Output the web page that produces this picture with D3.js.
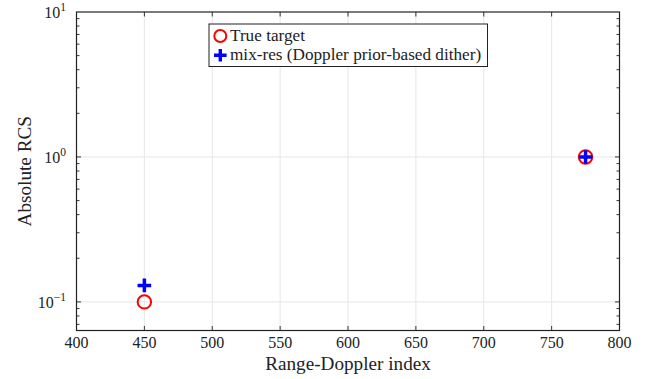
<!DOCTYPE html>
<html>
<head>
<meta charset="utf-8">
<script src="https://cdn.jsdelivr.net/npm/d3@7"></script>
<style>
  html, body { margin: 0; padding: 0; background: #fff; }
  svg text { font-family: "Liberation Serif", "Times New Roman", serif; fill: #222; }
</style>
</head>
<body>
<svg id="chart" width="652" height="379"></svg>
<script>
// Range-Doppler bins and their absolute RCS values
const trueIndex = [450, 775];
const trueRCS = [0.1, 1.0];
const mixIndex = [450, 775];
const mixRCS = [0.13, 1.0];

const xTicks = [400, 450, 500, 550, 600, 650, 700, 750, 800];
const yDecades = [-1, 0, 1];
const legendLabels = ["True target", "mix-res (Doppler prior-based dither)"];

const svg = d3.select("#chart");
const m = { left: 76.5, right: 619.5, top: 12, bottom: 330.5 };

const x = d3.scaleLinear().domain([400, 800]).range([m.left, m.right]);
const y = d3.scaleLog().domain([0.0635, 10]).range([m.bottom, m.top]);

// grid
const grid = svg.append("g").attr("stroke", "#e6e6e6").attr("stroke-width", 1);
xTicks.slice(1, -1).forEach(t => {
  grid.append("line").attr("x1", x(t)).attr("x2", x(t)).attr("y1", m.top).attr("y2", m.bottom);
});
yDecades.forEach(d => {
  const v = Math.pow(10, d);
  if (y(v) > m.top + 1) grid.append("line").attr("x1", m.left).attr("x2", m.right).attr("y1", y(v)).attr("y2", y(v));
});

// inward ticks on all four sides
const tk = svg.append("g").attr("stroke", "#333").attr("stroke-width", 1);
xTicks.slice(1, -1).forEach(t => {
  tk.append("line").attr("x1", x(t)).attr("x2", x(t)).attr("y1", m.bottom).attr("y2", m.bottom - 4.5);
  tk.append("line").attr("x1", x(t)).attr("x2", x(t)).attr("y1", m.top).attr("y2", m.top + 4.5);
});
const minorVals = [];
[-2, -1, 0].forEach(d => {
  for (let k = 1; k <= 9; k++) {
    const v = k * Math.pow(10, d);
    if (v >= 0.0635 && v <= 10) minorVals.push(v);
  }
});
minorVals.forEach(v => {
  const isMajor = Math.abs(Math.log10(v) - Math.round(Math.log10(v))) < 1e-9;
  const len = isMajor ? 4.5 : 3;
  const yy = y(v);
  if (yy < m.top + 0.5 || yy > m.bottom - 0.5) return;
  tk.append("line").attr("x1", m.left).attr("x2", m.left + len).attr("y1", yy).attr("y2", yy);
  tk.append("line").attr("x1", m.right).attr("x2", m.right - len).attr("y1", yy).attr("y2", yy);
});

// frame
svg.append("rect")
  .attr("x", m.left).attr("y", m.top)
  .attr("width", m.right - m.left).attr("height", m.bottom - m.top)
  .attr("fill", "none").attr("stroke", "#222").attr("stroke-width", 1.2);

// x tick labels
svg.append("g").selectAll("text").data(xTicks).join("text")
  .attr("x", d => x(d)).attr("y", 348)
  .attr("text-anchor", "middle").attr("font-size", 16)
  .text(d => d);

// y tick labels (powers of ten)
yDecades.forEach(d => {
  const t = svg.append("text")
    .attr("x", 66).attr("y", y(Math.pow(10, d)) + 6)
    .attr("text-anchor", "end").attr("font-size", 16);
  t.append("tspan").text("10");
  t.append("tspan").attr("dy", -7).attr("font-size", 11.5).text(d < 0 ? "\u22121" : String(d));
});

// axis titles
svg.append("text").attr("x", (m.left + m.right) / 2).attr("y", 370)
  .attr("text-anchor", "middle").attr("font-size", 19.2).text("Range-Doppler index");
svg.append("text")
  .attr("transform", `translate(31,${(m.top + m.bottom) / 2}) rotate(-90)`)
  .attr("text-anchor", "middle").attr("font-size", 19.2).text("Absolute RCS");

// markers
const red = "#ff0000", blue = "#0000ff";
svg.append("g").selectAll("circle").data(trueIndex).join("circle")
  .attr("cx", d => x(d)).attr("cy", (d, i) => y(trueRCS[i])).attr("r", 6.7)
  .attr("fill", "none").attr("stroke", red).attr("stroke-width", 2);

function plusPath(s) {
  return `M${-s},0H${s}M0,${-s}V${s}`;
}
svg.append("g").selectAll("path").data(mixIndex).join("path")
  .attr("transform", (d, i) => `translate(${x(d)},${y(mixRCS[i])})`)
  .attr("d", plusPath(6.8))
  .attr("fill", "none").attr("stroke", blue).attr("stroke-width", 3.5);

// legend
const lg = svg.append("g");
lg.append("rect").attr("x", 209).attr("y", 24).attr("width", 278.5).attr("height", 42.5)
  .attr("fill", "#fff").attr("stroke", "#222").attr("stroke-width", 1);
lg.append("circle").attr("cx", 220.3).attr("cy", 36).attr("r", 6)
  .attr("fill", "none").attr("stroke", red).attr("stroke-width", 2);
lg.append("path").attr("transform", "translate(220.3,55.3)").attr("d", plusPath(6.3))
  .attr("fill", "none").attr("stroke", blue).attr("stroke-width", 3.4);
legendLabels.forEach((t, i) => {
  lg.append("text").attr("x", 230).attr("y", 41 + i * 18.7)
    .attr("font-size", 17.2).text(t);
});
</script>
</body>
</html>
